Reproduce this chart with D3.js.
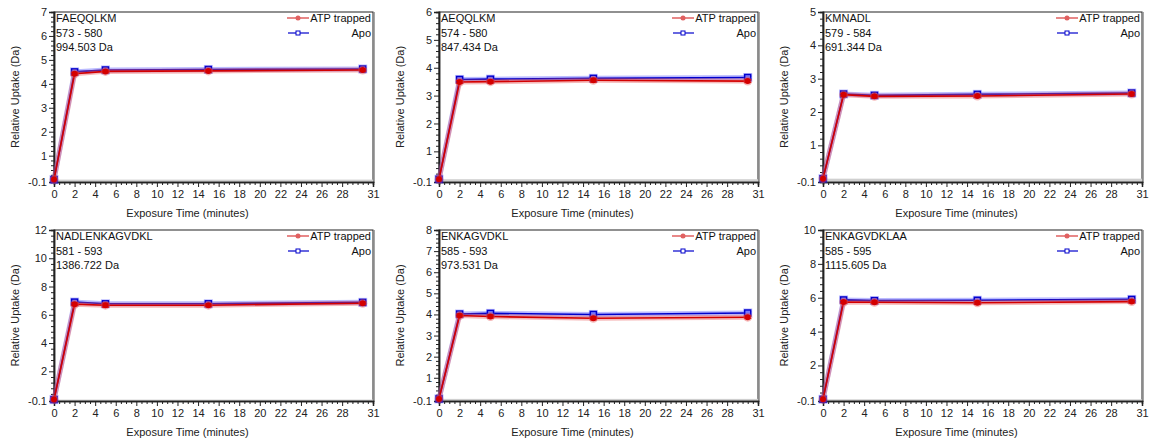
<!DOCTYPE html>
<html><head><meta charset="utf-8">
<script src="https://cdn.jsdelivr.net/npm/d3@7"></script>
<style>body{margin:0;background:#fff;}svg{display:block;font-family:"Liberation Sans",Arial,sans-serif;}</style>
</head><body><svg id="c" width="1151" height="448"></svg>
<script>
const times = [0, 2, 5, 15, 30];
const peptides = ["FAEQQLKM", "AEQQLKM", "KMNADL", "NADLENKAGVDKL", "ENKAGVDKL", "ENKAGVDKLAA"];
const ranges = ["573 - 580", "574 - 580", "579 - 584", "581 - 593", "585 - 593", "585 - 595"];
const masses = ["994.503 Da", "847.434 Da", "691.344 Da", "1386.722 Da", "973.531 Da", "1115.605 Da"];
const yMax = [7, 6, 5, 12, 8, 10];
const yMajorStep = [1, 1, 1, 2, 1, 2];
const atpValues = [
  [0, 4.42, 4.52, 4.54, 4.58],
  [0, 3.49, 3.50, 3.55, 3.52],
  [0, 2.52, 2.47, 2.48, 2.54],
  [0, 6.75, 6.68, 6.68, 6.82],
  [0, 3.95, 3.90, 3.82, 3.87],
  [0, 5.75, 5.73, 5.70, 5.77]
];
const apoValues = [
  [0, 4.50, 4.58, 4.60, 4.62],
  [0, 3.58, 3.59, 3.62, 3.65],
  [0, 2.54, 2.50, 2.53, 2.57],
  [0, 6.90, 6.78, 6.78, 6.88],
  [0, 4.02, 4.05, 4.00, 4.07],
  [0, 5.87, 5.83, 5.85, 5.90]
];
const atpErr = [
  [0, 0.06, 0.05, 0.05, 0.05],
  [0, 0.05, 0.05, 0.07, 0.05],
  [0, 0.04, 0.04, 0.04, 0.05],
  [0, 0.10, 0.15, 0.08, 0.08],
  [0, 0.06, 0.07, 0.07, 0.06],
  [0, 0.08, 0.08, 0.10, 0.08]
];
const apoErr = [
  [0, 0.05, 0.05, 0.05, 0.05],
  [0, 0.05, 0.05, 0.05, 0.05],
  [0, 0.04, 0.04, 0.04, 0.04],
  [0, 0.12, 0.08, 0.08, 0.08],
  [0, 0.05, 0.05, 0.05, 0.05],
  [0, 0.07, 0.07, 0.07, 0.07]
];
const xTickLabels = [0, 2, 4, 6, 8, 10, 12, 14, 16, 18, 20, 22, 24, 26, 28, 31];
const seriesNames = ["ATP trapped", "Apo"];

const svg = d3.select("#c");
const colLeft = [54, 439, 823];
const rowTop = [12, 230];
const rowBottom = [182, 401];
const W = 319;

peptides.forEach((pep, i) => {
  const col = i % 3, row = Math.floor(i / 3);
  const x0 = colLeft[col], y0 = rowTop[row], y1 = rowBottom[row];
  const g = svg.append("g");
  const x = d3.scaleLinear().domain([0, 31]).range([x0, x0 + W]);
  const y = d3.scaleLinear().domain([-0.1, yMax[i]]).range([y1, y0]);

  // plot frame
  g.append("rect").attr("x", x0).attr("y", y0).attr("width", W).attr("height", y1 - y0)
    .attr("fill", "#fff").attr("stroke", "#222").attr("stroke-width", 1);
  g.append("line").attr("x1", x0 + W + 1).attr("x2", x0 + W + 1).attr("y1", y0).attr("y2", y1 + 1)
    .attr("stroke", "#888").attr("stroke-width", 1.5);
  // gray baseline band
  g.append("rect").attr("x", x0 + 1).attr("y", y(0)).attr("width", W - 1).attr("height", y(-0.1) - y(0))
    .attr("fill", "#cfcfcf");

  // y axis
  const majors = d3.range(yMajorStep[i], yMax[i] + 0.001, yMajorStep[i]);
  const minors = d3.range(0, yMax[i] + 0.001, yMajorStep[i] / 5).filter(v => !majors.some(m => Math.abs(m - v) < 1e-6));
  const yAxis = d3.axisLeft(y).tickValues([-0.1].concat(majors)).tickSize(5).tickPadding(2)
    .tickFormat(d => d === -0.1 ? "-0.1" : d3.format("d")(d));
  const ya = g.append("g").attr("transform", `translate(${x0},0)`).call(yAxis);
  const yMinor = d3.axisLeft(y).tickValues(minors).tickSize(3).tickFormat("");
  const ym = g.append("g").attr("transform", `translate(${x0},0)`).call(yMinor);
  [ya, ym].forEach(a => { a.select(".domain").attr("stroke", "#222").attr("stroke-width", 1.5); a.selectAll("line").attr("stroke", "#222"); });
  ya.selectAll("text").attr("font-size", 11).attr("fill", "#222").attr("font-family", "Liberation Sans, Arial");

  // x axis
  const xAxis = d3.axisBottom(x).tickValues(xTickLabels).tickSize(5).tickPadding(3).tickFormat(d3.format("d"));
  const xa = g.append("g").attr("transform", `translate(0,${y1})`).call(xAxis);
  const xMinorVals = d3.range(0, 31.01, 0.5).filter(v => !xTickLabels.includes(v));
  const xm = g.append("g").attr("transform", `translate(0,${y1})`)
    .call(d3.axisBottom(x).tickValues(xMinorVals).tickSize(3).tickFormat(""));
  [xa, xm].forEach(a => { a.select(".domain").attr("stroke", "#222").attr("stroke-width", 1.5); a.selectAll("line").attr("stroke", "#222"); });
  xa.selectAll("text").attr("font-size", 11).attr("fill", "#222").attr("font-family", "Liberation Sans, Arial");

  // axis titles
  g.append("text").attr("x", x0 + W / 2 - 26).attr("y", y1 + 35).attr("text-anchor", "middle")
    .attr("font-size", 11).attr("fill", "#222").text("Exposure Time (minutes)");
  g.append("text").attr("transform", `translate(${x0 - 35},${(y0 + y1) / 2}) rotate(-90)`)
    .attr("text-anchor", "middle").attr("font-size", 11).attr("fill", "#222").text("Relative Uptake (Da)");

  // peptide info
  [pep, ranges[i], masses[i]].forEach((t, k) => {
    g.append("text").attr("x", x0 + 2).attr("y", y0 + 10 + k * 14.5).attr("font-size", 11)
      .attr("fill", "#111").text(t);
  });

  // series
  const series = [
    { name: seriesNames[1], vals: apoValues[i], err: apoErr[i], color: "#0000cc", halo: "rgba(60,60,255,0.35)", shape: "square" },
    { name: seriesNames[0], vals: atpValues[i], err: atpErr[i], color: "#d40000", halo: "rgba(230,80,80,0.4)", shape: "circle" }
  ];
  const line = d3.line().x((d, j) => x(times[j])).y(d => y(d));
  series.forEach(s => {
    g.append("path").datum(s.vals).attr("d", line).attr("fill", "none").attr("stroke", s.halo).attr("stroke-width", 5);
    g.append("path").datum(s.vals).attr("d", line).attr("fill", "none").attr("stroke", s.color).attr("stroke-width", 1.6);
    s.vals.forEach((v, j) => {
      const cx = x(times[j]), cy = y(v);
      const e = s.err[j];
      if (e > 0) {
        g.append("line").attr("x1", cx).attr("x2", cx).attr("y1", y(v - e)).attr("y2", y(v + e)).attr("stroke", s.color).attr("stroke-width", 1.2);
        [v - e, v + e].forEach(ev => g.append("line").attr("x1", cx - 3.5).attr("x2", cx + 3.5).attr("y1", y(ev)).attr("y2", y(ev)).attr("stroke", s.color).attr("stroke-width", 1.2));
      }
      if (s.shape === "circle") {
        g.append("circle").attr("cx", cx).attr("cy", cy).attr("r", 4.5).attr("fill", s.halo);
        g.append("circle").attr("cx", cx).attr("cy", cy).attr("r", 3).attr("fill", s.color);
      } else {
        g.append("rect").attr("x", cx - 4.5).attr("y", cy - 4.5).attr("width", 9).attr("height", 9).attr("fill", s.halo);
        g.append("rect").attr("x", cx - 3).attr("y", cy - 3).attr("width", 6).attr("height", 6).attr("fill", "#7777ff").attr("stroke", s.color).attr("stroke-width", 1.4);
      }
    });
  });

  // legend
  const lx = x0 + W - 86;
  g.append("line").attr("x1", lx).attr("x2", lx + 22).attr("y1", y0 + 6).attr("y2", y0 + 6).attr("stroke", "#e06060").attr("stroke-width", 1.5);
  g.append("circle").attr("cx", lx + 11).attr("cy", y0 + 6).attr("r", 2.5).attr("fill", "#e06060");
  g.append("text").attr("x", x0 + W - 2).attr("y", y0 + 10).attr("text-anchor", "end").attr("font-size", 11).attr("fill", "#111").text(seriesNames[0]);
  g.append("line").attr("x1", lx + 1).attr("x2", lx + 22).attr("y1", y0 + 21).attr("y2", y0 + 21).attr("stroke", "#0000cc").attr("stroke-width", 1.2);
  g.append("rect").attr("x", lx + 9).attr("y", y0 + 19).attr("width", 4).attr("height", 4).attr("fill", "#fff").attr("stroke", "#0000cc").attr("stroke-width", 1);
  g.append("text").attr("x", x0 + W - 2).attr("y", y0 + 25).attr("text-anchor", "end").attr("font-size", 11).attr("fill", "#111").text(seriesNames[1]);
});
</script></body></html>
